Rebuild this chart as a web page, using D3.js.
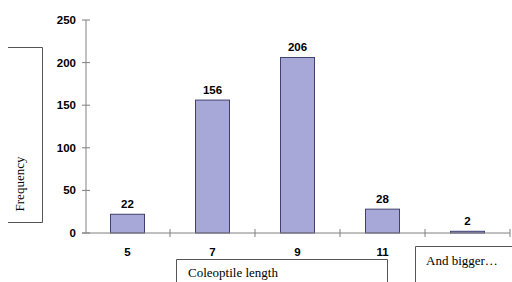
<!DOCTYPE html>
<html><head><meta charset="utf-8">
<script src="https://cdn.jsdelivr.net/npm/d3@7"></script>
<style>body{margin:0;background:#fff}svg{display:block}</style>
</head><body><svg width="512" height="282"></svg>
<script>
const categories = ["5", "7", "9", "11", ""];
const values = [22, 156, 206, 28, 2];
const yTicks = [0, 50, 100, 150, 200, 250];
const yLabel = "Frequency";
const xLabel = "Coleoptile length";
const extraLabel = "And bigger…";

const svg = d3.select("svg");
const x = d3.scaleBand().domain(d3.range(categories.length)).range([85, 510]).paddingInner(0.6).paddingOuter(0.3);
const y = d3.scaleLinear().domain([0, 250]).range([233, 20]);
const step = x.step();
const grey = "#808080";

// y axis
svg.append("line").attr("x1", 86).attr("x2", 86).attr("y1", y(250)).attr("y2", y(0)).attr("stroke", grey);
svg.selectAll(".yt").data(yTicks).enter().append("line")
  .attr("x1", 82).attr("x2", 90).attr("y1", d => y(d)).attr("y2", d => y(d)).attr("stroke", grey);
svg.selectAll(".yl").data(yTicks).enter().append("text")
  .attr("x", 76).attr("y", d => y(d) + 4).attr("text-anchor", "end")
  .attr("font-family", "Liberation Sans, Arial, sans-serif").attr("font-weight", "bold").attr("font-size", 11.5)
  .text(d => d);

// bars
svg.selectAll(".bar").data(values).enter().append("rect")
  .attr("x", (d, i) => x(i)).attr("width", x.bandwidth())
  .attr("y", d => y(d)).attr("height", d => y(0) - y(d))
  .attr("fill", "#a8a8d8").attr("stroke", "#404070").attr("stroke-width", 1);

// x axis
svg.append("line").attr("x1", 82).attr("x2", 510).attr("y1", y(0)).attr("y2", y(0)).attr("stroke", grey);
const tickXs = d3.range(categories.length).map(i => x(i) - x.bandwidth() * 0 + 0).map((v, i) => 85 + step * (i + 1));
svg.selectAll(".xt").data(tickXs).enter().append("line")
  .attr("x1", d => d).attr("x2", d => d).attr("y1", y(0) - 4).attr("y2", y(0) + 4).attr("stroke", grey);
svg.selectAll(".xl").data(categories).enter().append("text")
  .attr("x", (d, i) => x(i) + x.bandwidth() / 2).attr("y", 256).attr("text-anchor", "middle")
  .attr("font-family", "Liberation Sans, Arial, sans-serif").attr("font-weight", "bold").attr("font-size", 11.5)
  .text(d => d);

// value labels
svg.selectAll(".vl").data(values).enter().append("text")
  .attr("x", (d, i) => x(i) + x.bandwidth() / 2).attr("y", d => y(d) - 6).attr("text-anchor", "middle")
  .attr("font-family", "Liberation Sans, Arial, sans-serif").attr("font-weight", "bold").attr("font-size", 11.5)
  .text(d => d);

// Frequency box (open on left)
svg.append("path").attr("d", "M8,47.5H42.5V222.5H8").attr("fill", "none").attr("stroke", "#555");
svg.append("text").attr("transform", "translate(24,184) rotate(-90)").attr("text-anchor", "middle")
  .attr("font-family", "Liberation Serif, Times New Roman, serif").attr("font-size", 13).text(yLabel);

// Coleoptile length box (open at bottom)
svg.append("path").attr("d", "M176.5,283V259.5H387.5V283").attr("fill", "none").attr("stroke", "#555");
svg.append("text").attr("x", 188).attr("y", 277)
  .attr("font-family", "Liberation Serif, Times New Roman, serif").attr("font-size", 13).text(xLabel);

// And bigger box
svg.append("path").attr("d", "M415.5,283V246.5H513").attr("fill", "none").attr("stroke", "#555");
svg.append("text").attr("x", 426).attr("y", 265)
  .attr("font-family", "Liberation Serif, Times New Roman, serif").attr("font-size", 13).text(extraLabel);
</script></body></html>
